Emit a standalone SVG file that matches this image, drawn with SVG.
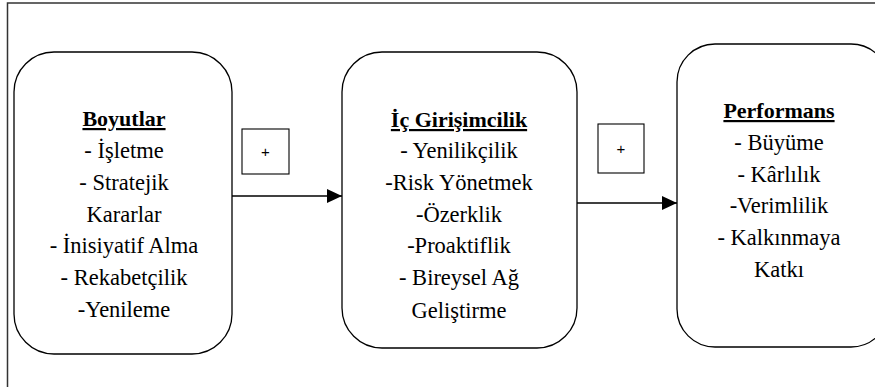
<svg xmlns="http://www.w3.org/2000/svg" width="875" height="387" viewBox="0 0 875 387">
<defs>
<style>
.node{fill:#fff;stroke:#000;stroke-width:1.3}
.t{font-size:22.5px;text-anchor:middle;fill:#000}
.h{font-size:22px;font-weight:bold;text-decoration:underline}
.plus{fill:#fff;stroke:#000;stroke-width:1.1}
.p{font-size:15px;text-anchor:middle;fill:#000}
.c{stroke:#000;stroke-width:1.3;fill:none}
</style>
<marker id="ah" markerWidth="15" markerHeight="14" refX="15" refY="7" orient="auto" markerUnits="userSpaceOnUse">
<path d="M0,0 L15,7 L0,14 Z" fill="#000"/>
</marker>
</defs>
<rect width="875" height="387" fill="#fff"/>
<path d="M7.5,395 V3 H880" fill="none" stroke="#333" stroke-width="1.5"/>
<g id="connectors">
<line class="c" x1="232" y1="196" x2="342" y2="196" marker-end="url(#ah)"/>
<line class="c" x1="577" y1="203" x2="677" y2="203" marker-end="url(#ah)"/>
<g id="plus1"><rect class="plus" x="242" y="129" width="47" height="45"/><text class="p" font-family="Liberation Sans, Arial, sans-serif" x="265.5" y="157">+</text></g>
<g id="plus2"><rect class="plus" x="598" y="124" width="46" height="49"/><text class="p" font-family="Liberation Sans, Arial, sans-serif" x="621" y="154">+</text></g>
</g>
<g id="boyutlar" font-family="Liberation Serif, DejaVu Serif, serif">
<rect class="node" x="14" y="52" width="218" height="302" rx="40" ry="40"/>
<text class="t h" x="124" y="126">Boyutlar</text>
<text class="t" x="124" y="158">- İşletme</text>
<text class="t" x="124" y="190">- Stratejik</text>
<text class="t" x="124" y="222">Kararlar</text>
<text class="t" x="124" y="253">- İnisiyatif Alma</text>
<text class="t" x="124" y="285">- Rekabetçilik</text>
<text class="t" x="124" y="317">-Yenileme</text>
</g>
<g id="ic-girisimcilik" font-family="Liberation Serif, DejaVu Serif, serif">
<rect class="node" x="342" y="52" width="235" height="296" rx="40" ry="40"/>
<text class="t h" x="459" y="127">İç Girişimcilik</text>
<text class="t" x="459" y="158">- Yenilikçilik</text>
<text class="t" x="459" y="190">-Risk Yönetmek</text>
<text class="t" x="459" y="222">-Özerklik</text>
<text class="t" x="459" y="253">-Proaktiflik</text>
<text class="t" x="459" y="285">- Bireysel Ağ</text>
<text class="t" x="459" y="318">Geliştirme</text>
</g>
<g id="performans" font-family="Liberation Serif, DejaVu Serif, serif">
<rect class="node" x="677" y="44" width="212" height="303" rx="38" ry="38"/>
<text class="t h" x="779" y="118">Performans</text>
<text class="t" x="779" y="150">- Büyüme</text>
<text class="t" x="779" y="182">- Kârlılık</text>
<text class="t" x="779" y="213">-Verimlilik</text>
<text class="t" x="779" y="245">- Kalkınmaya</text>
<text class="t" x="779" y="277">Katkı</text>
</g>
</svg>
